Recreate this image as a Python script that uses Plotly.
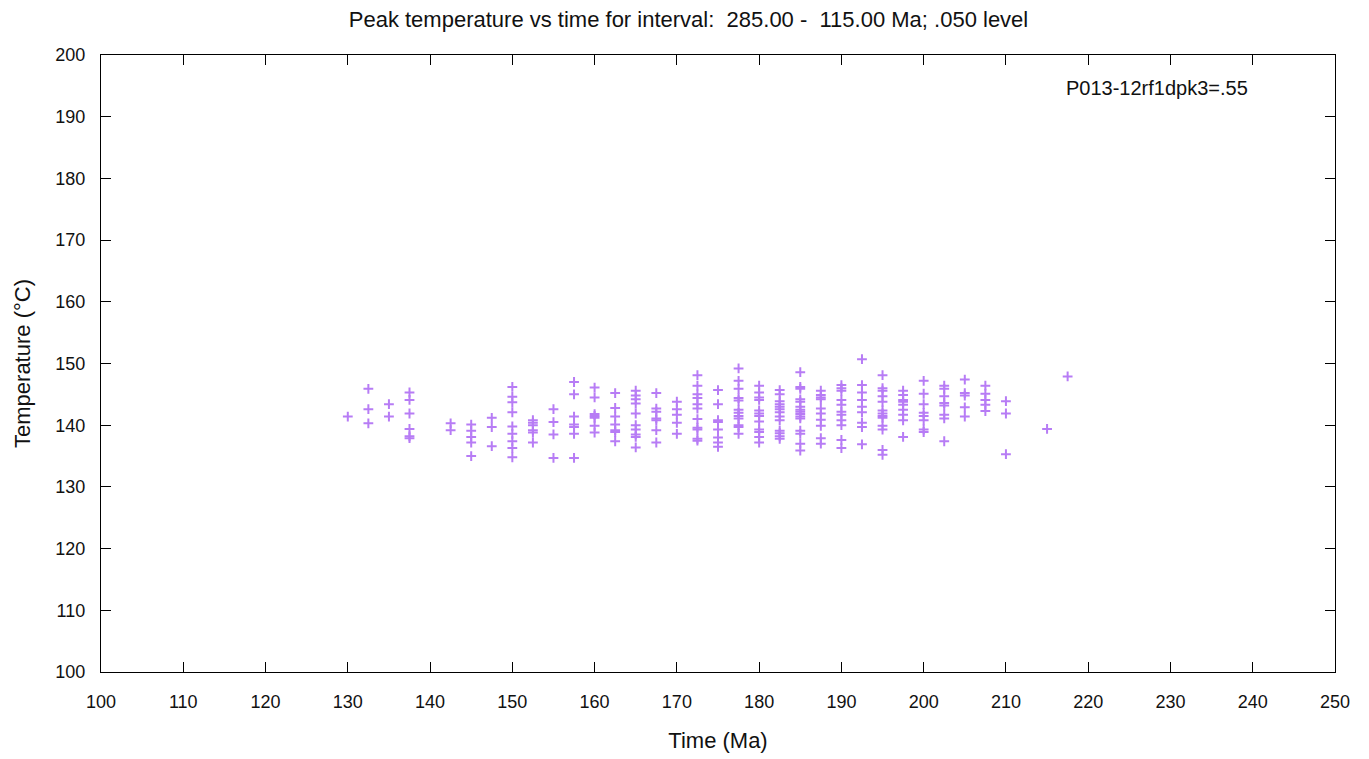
import plotly.graph_objects as go

time_cols = [130, 132.5, 135, 137.5, 142.5, 145, 147.5, 150, 152.5, 155, 157.5, 160, 162.5,
             165, 167.5, 170, 172.5, 175, 177.5, 180, 182.5, 185, 187.5, 190, 192.5, 195,
             197.5, 200, 202.5, 205, 207.5, 210, 215, 217.5]
temps = [
    [141.4],
    [145.9, 142.6, 140.3],
    [143.4, 141.4],
    [145.3, 144.1, 141.9, 139.4, 138.2, 137.9],
    [140.3, 139.2],
    [140.1, 139.1, 138.1, 137.2, 135.0],
    [141.2, 139.7, 136.6],
    [146.2, 144.6, 143.7, 142.1, 139.8, 138.6, 137.4, 136.3, 134.8],
    [140.8, 140.4, 140.0, 139.2, 138.8, 137.2],
    [142.6, 140.5, 138.5, 134.7],
    [147.0, 145.0, 141.4, 140.1, 139.7, 138.6, 134.7],
    [146.1, 144.5, 141.8, 141.5, 141.2, 139.9, 138.8],
    [145.2, 142.8, 141.4, 140.1, 139.2, 138.9, 137.4],
    [145.6, 144.8, 144.2, 143.5, 141.9, 140.0, 139.3, 138.5, 138.1, 136.4],
    [145.2, 142.7, 142.2, 141.1, 140.8, 139.2, 137.2],
    [143.8, 142.6, 141.7, 140.4, 138.6],
    [148.1, 146.4, 145.0, 144.4, 143.4, 142.7, 141.0, 139.6, 139.3, 137.8, 137.5],
    [145.7, 143.4, 140.8, 140.5, 139.3, 138.0, 137.2, 136.5],
    [149.2, 147.2, 145.9, 144.4, 144.0, 142.5, 142.0, 141.5, 141.1, 140.0, 139.7, 138.6],
    [146.4, 145.3, 144.5, 144.1, 142.4, 141.9, 141.5, 140.6, 139.3, 138.9, 138.1, 137.2],
    [145.7, 145.0, 143.9, 143.4, 143.0, 142.6, 142.1, 141.4, 140.8, 139.1, 138.7, 138.2, 137.8],
    [148.6, 146.2, 145.9, 144.2, 143.8, 143.0, 142.5, 142.2, 141.8, 141.4, 141.1, 139.1, 138.6, 137.0, 135.9],
    [145.6, 144.9, 144.5, 144.2, 142.7, 141.9, 140.9, 139.9, 137.9, 137.0],
    [146.5, 146.0, 145.6, 144.1, 143.3, 142.2, 141.7, 140.8, 140.0, 137.6, 136.3],
    [150.7, 146.5, 145.3, 144.1, 143.0, 142.1, 140.4, 139.7, 136.9],
    [148.1, 146.0, 145.6, 144.7, 143.8, 142.4, 141.9, 141.5, 141.2, 139.9, 139.3, 136.0, 135.2],
    [145.6, 144.9, 144.1, 143.8, 143.3, 142.5, 141.7, 140.8, 138.1],
    [147.2, 145.1, 143.4, 142.0, 141.5, 140.8, 139.3, 138.9],
    [146.4, 145.9, 144.7, 143.6, 143.2, 141.7, 141.1, 137.4],
    [147.4, 145.2, 144.8, 142.9, 141.4],
    [146.4, 145.1, 144.1, 143.3, 142.3],
    [143.9, 141.9, 135.3],
    [139.4],
    [147.9],
]

x_vals = []
y_vals = []
for t, col in zip(time_cols, temps):
    for v in col:
        x_vals.append(t)
        y_vals.append(v)

x_ticks = list(range(100, 251, 10))
y_ticks = list(range(100, 201, 10))

FONT = "Liberation Sans, Arial, sans-serif"

fig = go.Figure()
fig.add_trace(go.Scatter(
    x=x_vals, y=y_vals, mode="markers",
    marker=dict(symbol="cross-thin", size=7, line=dict(width=2, color="#b77cf5"), color="#b77cf5"),
    showlegend=False, hoverinfo="x+y",
))

axis_common = dict(
    showline=True, linecolor="black", linewidth=1.3, mirror="ticks",
    ticks="inside", ticklen=10, tickcolor="black", tickwidth=1,
    showgrid=False, zeroline=False, automargin=False,
    tickfont=dict(family=FONT, size=18, color="#111111"),
    title_font=dict(family=FONT, size=22, color="#111111"),
)

fig.update_layout(
    width=1361, height=751,
    paper_bgcolor="white", plot_bgcolor="white",
    margin=dict(l=93, r=34, t=47, b=87),
    title=dict(text="Peak temperature vs time for interval:  285.00 -  115.00 Ma; .050 level",
               x=0.5, xanchor="center", y=0.995, yref="container", yanchor="top",
               pad=dict(t=0, b=0),
               font=dict(family=FONT, size=22, color="#111111")),
    xaxis=dict(range=[100, 250], tickvals=x_ticks, ticklabelstandoff=13,
               title=dict(text="Time (Ma)", standoff=21), **axis_common),
    yaxis=dict(range=[100, 200], tickvals=y_ticks, ticklabelstandoff=11,
               title=dict(text="Temperature (°C)", standoff=18), **axis_common),
    annotations=[dict(text="P013-12rf1dpk3=.55", x=0.931, y=0.9465, xref="paper", yref="paper",
                      xanchor="right", yanchor="middle", showarrow=False,
                      font=dict(family=FONT, size=20, color="#111111"))],
)

fig.write_html("out.html")
